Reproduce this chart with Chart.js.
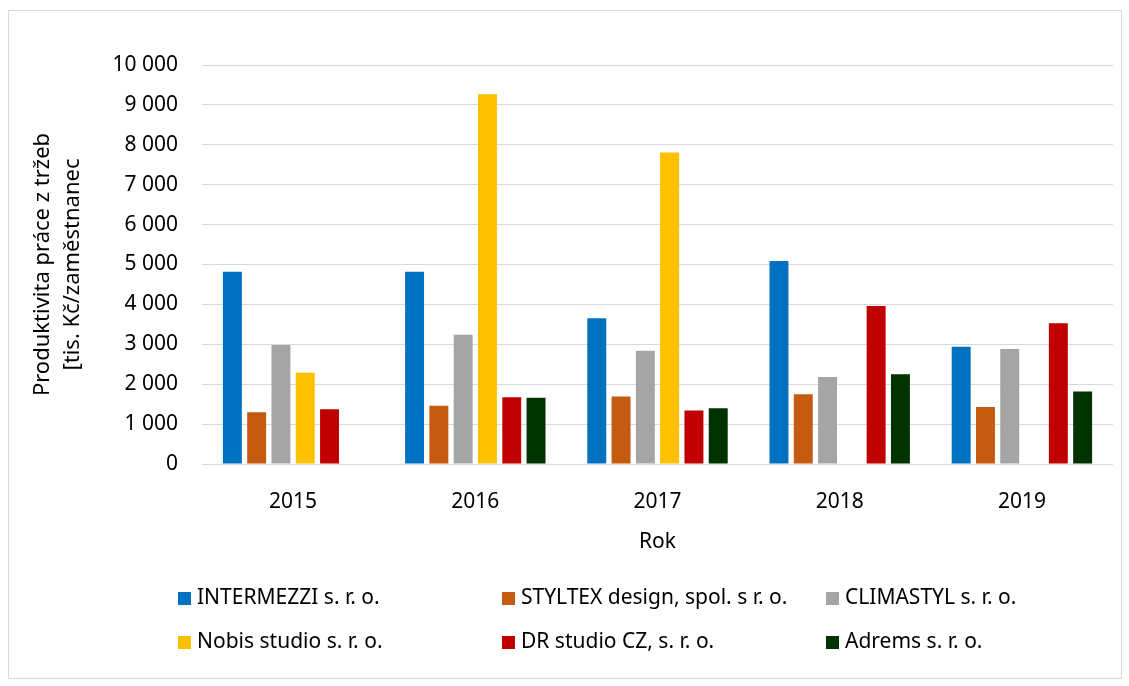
<!DOCTYPE html>
<html>
<head>
<meta charset="utf-8">
<script src="https://cdn.jsdelivr.net/npm/chart.js@4/dist/chart.umd.min.js"></script>
<style>
  body { margin: 0; background: #fff; }
  #wrap { position: relative; width: 1129px; height: 686px; }
  #frame { position: absolute; left: 8px; top: 10px; width: 1112px; height: 667px; border: 1px solid #d9d9d9; pointer-events: none; }
  .leg { position: absolute; font: 21px "Noto Sans", sans-serif; color: #000; white-space: nowrap; line-height: 24px; }
  .leg span { display: inline-block; width: 13px; height: 13px; margin-right: 6px; vertical-align: -1px; }
</style>
</head>
<body>
<div id="wrap">
  <canvas id="chart" width="1129" height="686"></canvas>
  <div id="frame"></div>
  <div id="legend"></div>
</div>
<script>
const years = ['2015', '2016', '2017', '2018', '2019'];

const intermezzi = [4820, 4820, 3650, 5090, 2940];
const styltex    = [1300, 1460, 1690, 1750, 1430];
const climastyl  = [2980, 3240, 2840, 2180, 2880];
const nobis      = [2290, 9270, 7810, null, null];
const drStudio   = [1370, 1670, 1340, 3960, 3525];
const adrems     = [null, 1660, 1395, 2250, 1820];

const seriesNames = [
  'INTERMEZZI s. r. o.',
  'STYLTEX design, spol. s r. o.',
  'CLIMASTYL s. r. o.',
  'Nobis studio s. r. o.',
  'DR studio CZ, s. r. o.',
  'Adrems s. r. o.'
];
const seriesColors = ['#0070C0', '#C55A11', '#A5A5A5', '#FFC000', '#C00000', '#003300'];
const seriesData = [intermezzi, styltex, climastyl, nobis, drStudio, adrems];

const font = { family: '"Noto Sans", sans-serif', size: 21 };

function fmt(v) {
  return String(v).replace(/\B(?=(\d{3})+(?!\d))/g, ' ');
}

const ctx = document.getElementById('chart').getContext('2d');
new Chart(ctx, {
  type: 'bar',
  data: {
    labels: years,
    datasets: seriesData.map((d, i) => ({
      label: seriesNames[i],
      data: d,
      backgroundColor: seriesColors[i],
      categoryPercentage: 0.8,
      barPercentage: 0.78
    }))
  },
  options: {
    responsive: false,
    animation: false,
    layout: { padding: { top: 65, right: 16, bottom: 122, left: 0 } },
    plugins: {
      legend: { display: false },
      tooltip: { enabled: false }
    },
    scales: {
      x: {
        grid: { display: false },
        border: { display: false },
        ticks: { color: '#000', font: font, padding: 17 },
        title: { display: true, text: 'Rok', color: '#000', font: font, padding: { top: 0, bottom: 9 } },
        afterFit: s => { s.height = 100; }
      },
      y: {
        min: 0,
        max: 10000,
        grid: { color: '#d9d9d9', lineWidth: 1, drawTicks: false },
        border: { display: false },
        ticks: { stepSize: 1000, color: '#000', font: font, padding: 24, callback: v => fmt(v) },
        title: {
          display: true,
          text: ['Produktivita práce z tržeb', '[tis. Kč/zaměstnanec'],
          color: '#000',
          font: { family: font.family, size: 22, lineHeight: 1.364 },
          padding: { top: 27.5, bottom: 0 }
        },
        afterFit: s => { s.width = 202; }
      }
    }
  }
});

// legend, 3 columns x 2 rows
const legend = document.getElementById('legend');
const colX = [178, 502, 826];
const rowY = [584, 628];
seriesNames.forEach((name, i) => {
  const el = document.createElement('div');
  el.className = 'leg';
  el.style.left = colX[i % 3] + 'px';
  el.style.top = rowY[Math.floor(i / 3)] + 'px';
  el.innerHTML = `<span style="background:${seriesColors[i]}"></span>${name}`;
  legend.appendChild(el);
});
</script>
</body>
</html>
